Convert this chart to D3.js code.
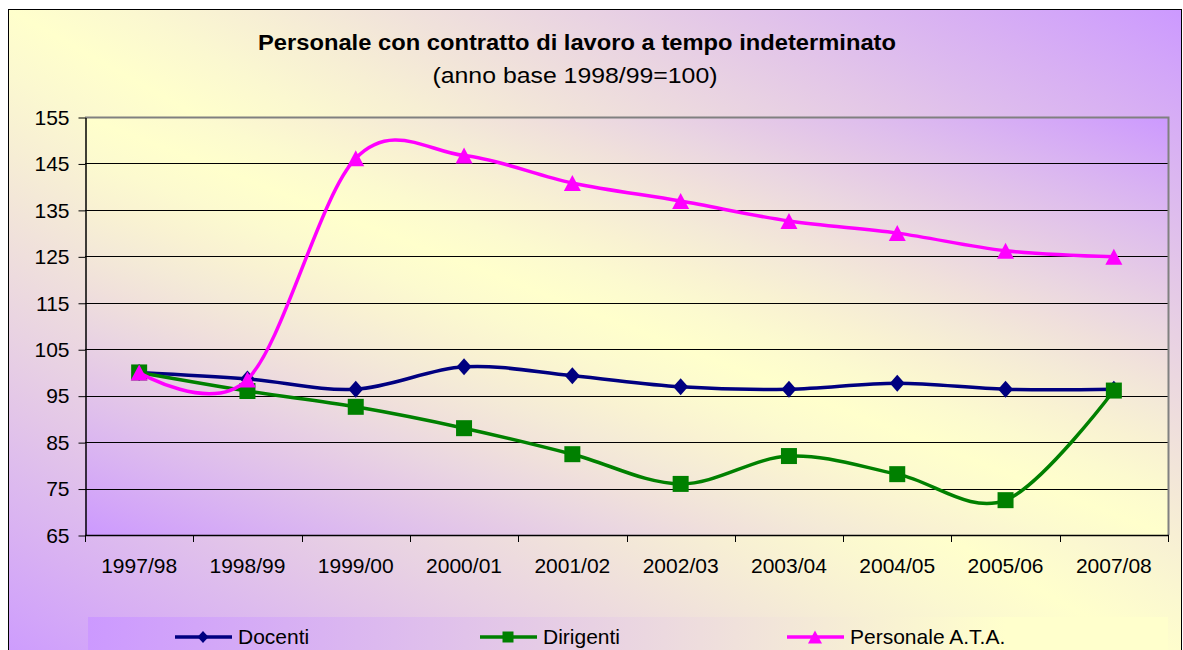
<!DOCTYPE html>
<html>
<head>
<meta charset="utf-8">
<script src="https://cdn.jsdelivr.net/npm/d3@7"></script>
<style>
  html, body { margin: 0; padding: 0; background: #ffffff; }
  svg { display: block; font-family: "Liberation Sans", Arial, sans-serif; }
</style>
</head>
<body>
<svg id="chart" width="1183" height="650"></svg>
<script>
// Anni scolastici e indici (1998/99 = 100)
const categories = ["1997/98", "1998/99", "1999/00", "2000/01", "2001/02",
                    "2002/03", "2003/04", "2004/05", "2005/06", "2007/08"];
const docenti      = [100, 98.6, 96.4, 101.2, 99.3, 96.9, 96.4, 97.7, 96.4, 96.4];
const dirigenti    = [100, 96.0, 92.6, 88.0, 82.4, 76.0, 82.0, 78.1, 72.5, 96.1];
const personaleATA = [100, 98.5, 146.1, 146.7, 140.8, 136.9, 132.6, 130.0, 126.2, 124.9];
const yTicks = [65, 75, 85, 95, 105, 115, 125, 135, 145, 155];
const seriesNames = ["Docenti", "Dirigenti", "Personale A.T.A."];

const svg = d3.select("#chart");
const defs = svg.append("defs");

const PURPLE = "#CC99FF", YELLOW = "#FFFFCC";
const mix = d3.interpolateRgb(PURPLE, YELLOW);

// two-colour diagonal fill: purple at two opposite corners, yellow band across the middle
function diagGradient(id, power) {
  const g = defs.append("linearGradient").attr("id", id)
    .attr("x1", 0).attr("y1", 1).attr("x2", 1).attr("y2", 0);
  d3.range(0, 1.0001, 0.05).forEach(t => {
    const d = Math.abs(t - 0.5) * 2;
    g.append("stop").attr("offset", t).attr("stop-color", mix(1 - Math.pow(d, power)));
  });
}
diagGradient("bgGrad", 1.15);
diagGradient("plotGrad", 1.3);
const lg = defs.append("linearGradient").attr("id", "legendGrad")
  .attr("x1", 0).attr("y1", 0).attr("x2", 1).attr("y2", 0);
lg.append("stop").attr("offset", 0).attr("stop-color", PURPLE);
lg.append("stop").attr("offset", 0.85).attr("stop-color", YELLOW);
lg.append("stop").attr("offset", 1).attr("stop-color", YELLOW);

// chart area
svg.append("rect")
  .attr("x", 8.5).attr("y", 9.5).attr("width", 1173).attr("height", 660)
  .attr("fill", "url(#bgGrad)").attr("stroke", "#000").attr("stroke-width", 1);

const plot = { left: 85, right: 1168, top: 117, bottom: 535 };

const x = d3.scaleBand().domain(categories).range([plot.left, plot.right]);
const y = d3.scaleLinear().domain([65, 155]).range([plot.bottom, plot.top]);

// plot area
svg.append("rect")
  .attr("x", plot.left).attr("y", plot.top)
  .attr("width", plot.right - plot.left).attr("height", plot.bottom - plot.top)
  .attr("fill", "url(#plotGrad)");

// horizontal gridlines
svg.append("g")
  .selectAll("line")
  .data(yTicks.filter(v => v < 155))
  .join("line")
  .attr("x1", plot.left).attr("x2", plot.right)
  .attr("y1", d => Math.round(y(d)) + 0.5).attr("y2", d => Math.round(y(d)) + 0.5)
  .attr("stroke", "#000").attr("stroke-width", 1);

// plot border: top and right in grey
svg.append("path")
  .attr("d", `M${plot.left},${plot.top + 0.5}H${plot.right + 0.5}V${plot.bottom}`)
  .attr("fill", "none").attr("stroke", "#808080").attr("stroke-width", 2);

// y axis
const yAxis = svg.append("g")
  .attr("transform", `translate(${plot.left + 0.5},0.5)`)
  .call(d3.axisLeft(y).tickValues(yTicks).tickSize(7).tickPadding(9).tickSizeOuter(0));
yAxis.select(".domain").attr("stroke", "#000").attr("stroke-width", 1.5);
yAxis.selectAll(".tick line").attr("stroke", "#000");
yAxis.selectAll(".tick text")
  .attr("font-family", "'Liberation Sans', Arial, sans-serif")
  .attr("font-size", 21).attr("fill", "#000");

// x axis: line, ticks at category boundaries, labels centred in each band
svg.append("line")
  .attr("x1", plot.left).attr("x2", plot.right + 1)
  .attr("y1", plot.bottom + 0.5).attr("y2", plot.bottom + 0.5)
  .attr("stroke", "#000").attr("stroke-width", 1.5);
const bounds = categories.map(c => x(c)).concat([x.range()[1]]);
svg.append("g").selectAll("line")
  .data(bounds)
  .join("line")
  .attr("x1", d => Math.round(d) + 0.5).attr("x2", d => Math.round(d) + 0.5)
  .attr("y1", plot.bottom).attr("y2", plot.bottom + 7)
  .attr("stroke", "#000").attr("stroke-width", 1);
svg.append("g").selectAll("text")
  .data(categories)
  .join("text")
  .attr("x", d => x(d) + x.bandwidth() / 2)
  .attr("y", 573)
  .attr("text-anchor", "middle")
  .attr("font-size", 21)
  .text(d => d);

// title
svg.append("text")
  .attr("x", 577).attr("y", 50)
  .attr("text-anchor", "middle")
  .attr("font-weight", "bold").attr("font-size", 22)
  .attr("textLength", 638).attr("lengthAdjust", "spacingAndGlyphs")
  .text("Personale con contratto di lavoro a tempo indeterminato");
svg.append("text")
  .attr("x", 575).attr("y", 83)
  .attr("text-anchor", "middle")
  .attr("font-size", 22)
  .attr("textLength", 285).attr("lengthAdjust", "spacingAndGlyphs")
  .text("(anno base 1998/99=100)");

// marker shapes
const diamond = (w, h) => ({ draw(ctx) {
  ctx.moveTo(0, -h / 2); ctx.lineTo(w / 2, 0); ctx.lineTo(0, h / 2); ctx.lineTo(-w / 2, 0); ctx.closePath();
}});
const square = s => ({ draw(ctx) { ctx.rect(-s / 2, -s / 2, s, s); } });
const triangle = (w, h) => ({ draw(ctx) {
  ctx.moveTo(0, -h / 2); ctx.lineTo(w / 2, h / 2); ctx.lineTo(-w / 2, h / 2); ctx.closePath();
}});

const series = [
  { name: seriesNames[0], values: docenti, color: "#000080",
    marker: diamond(15, 17), legendMarker: diamond(11, 12) },
  { name: seriesNames[1], values: dirigenti, color: "#008000",
    marker: square(16), legendMarker: square(11) },
  { name: seriesNames[2], values: personaleATA, color: "#FF00FF",
    marker: triangle(17, 16), legendMarker: triangle(14, 13) }
];

const line = d3.line()
  .x((d, i) => x(categories[i]) + x.bandwidth() / 2)
  .y(d => y(d))
  .curve(d3.curveCardinal.tension(0));

series.forEach(s => {
  const g = svg.append("g");
  g.append("path")
    .attr("d", line(s.values))
    .attr("fill", "none").attr("stroke", s.color)
    .attr("stroke-width", 3.5).attr("stroke-linejoin", "round");
  g.selectAll("path.m")
    .data(s.values)
    .join("path").attr("class", "m")
    .attr("transform", (d, i) => `translate(${x(categories[i]) + x.bandwidth() / 2},${y(d)})`)
    .attr("d", d3.symbol().type(s.marker)())
    .attr("fill", s.color);
});

// legend
svg.append("rect")
  .attr("x", 88).attr("y", 617).attr("width", 1080).attr("height", 45)
  .attr("fill", "url(#legendGrad)");
const legendX = [175, 480, 787];
const legend = svg.append("g").selectAll("g")
  .data(series)
  .join("g")
  .attr("transform", (d, i) => `translate(${legendX[i]},637)`);
legend.append("line")
  .attr("x1", 0).attr("x2", 57).attr("y1", 0).attr("y2", 0)
  .attr("stroke", d => d.color).attr("stroke-width", 3.5);
legend.append("path")
  .attr("transform", "translate(28,0)")
  .attr("d", d => d3.symbol().type(d.legendMarker)())
  .attr("fill", d => d.color);
legend.append("text")
  .attr("x", 63).attr("y", 7)
  .attr("font-size", 21)
  .text(d => d.name);
</script>
</body>
</html>
